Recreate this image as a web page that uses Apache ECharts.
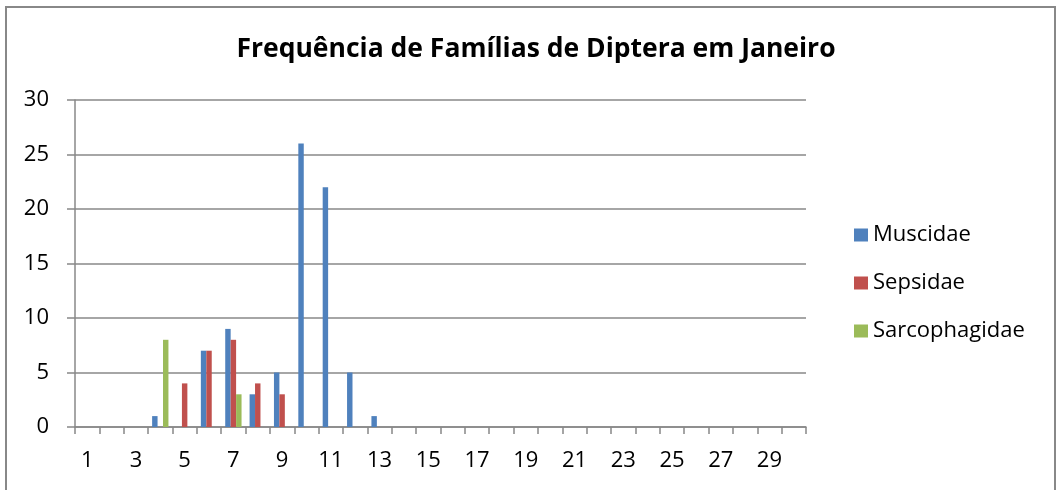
<!DOCTYPE html>
<html>
<head>
<meta charset="utf-8">
<script src="https://cdn.jsdelivr.net/npm/echarts@6/dist/echarts.min.js"></script>
<style>
  html, body { margin: 0; padding: 0; background: #fff; }
  #chart { width: 1056px; height: 490px; }
</style>
</head>
<body>
<div id="chart"></div>
<script>
// dias 1..30
var dias = [];
for (var d = 1; d <= 30; d++) dias.push(String(d));

// contagens por dia (null = sem registo)
var muscidae = [null, null, null, 1, null, 7, 9, 3, 5, 26, 22, 5, 1, null, null,
                null, null, null, null, null, null, null, null, null, null, null, null, null, null, null];
var sepsidae = [null, null, null, null, 4, 7, 8, 4, 3, null, null, null, null, null, null,
                null, null, null, null, null, null, null, null, null, null, null, null, null, null, null];
var sarcophagidae = [null, null, null, 8, null, null, 3, null, null, null, null, null, null, null, null,
                     null, null, null, null, null, null, null, null, null, null, null, null, null, null, null];

var FONT = '"Open Sans", Lato, sans-serif';

var option = {
    animation: false,
    title: {
        text: 'Frequência de Famílias de Diptera em Janeiro',
        left: 531,
        textAlign: 'center',
        top: 31,
        textStyle: {
            color: '#000',
            fontSize: 26.5,
            fontWeight: 'bold',
            fontFamily: FONT
        }
    },
    graphic: [{
        type: 'rect',
        shape: { x: 6, y: 7, width: 1049, height: 490 },
        style: { fill: 'none', stroke: '#888', lineWidth: 2 },
        silent: true
    }],
    color: ['#4F81BD', '#C0504D', '#9BBB59'],
    legend: {
        orient: 'vertical',
        left: 849,
        top: 219,
        itemWidth: 14,
        itemHeight: 13,
        itemGap: 26,
        icon: 'rect',
        textStyle: { fontSize: 22, color: '#000', fontFamily: FONT },
        data: ['Muscidae', 'Sepsidae', 'Sarcophagidae']
    },
    grid: {
        left: 75,
        right: 250,
        top: 100,
        bottom: 63,
        containLabel: false
    },
    xAxis: {
        type: 'category',
        data: dias,
        axisLine: { lineStyle: { color: '#888', width: 1.5 } },
        axisTick: { show: true, interval: 0, length: 7, lineStyle: { color: '#888', width: 1.5 } },
        axisLabel: {
            interval: 1,
            color: '#000',
            fontSize: 22,
            fontFamily: FONT,
            margin: 23
        }
    },
    yAxis: {
        type: 'value',
        min: 0,
        max: 30,
        interval: 5,
        axisLine: { show: true, lineStyle: { color: '#888', width: 1.5 } },
        axisTick: { show: true, length: 8, lineStyle: { color: '#888', width: 1.5 } },
        splitLine: { lineStyle: { color: '#888', width: 1.5 } },
        axisLabel: {
            color: '#000',
            fontSize: 22,
            fontFamily: FONT,
            margin: 26
        }
    },
    series: [
        { name: 'Muscidae', type: 'bar', data: muscidae, barGap: '0%', barCategoryGap: '33%' },
        { name: 'Sepsidae', type: 'bar', data: sepsidae, barGap: '0%', barCategoryGap: '33%' },
        { name: 'Sarcophagidae', type: 'bar', data: sarcophagidae, barGap: '0%', barCategoryGap: '33%' }
    ]
};

var echart = echarts.init(document.getElementById('chart'));
echart.setOption(option);
</script>
</body>
</html>
